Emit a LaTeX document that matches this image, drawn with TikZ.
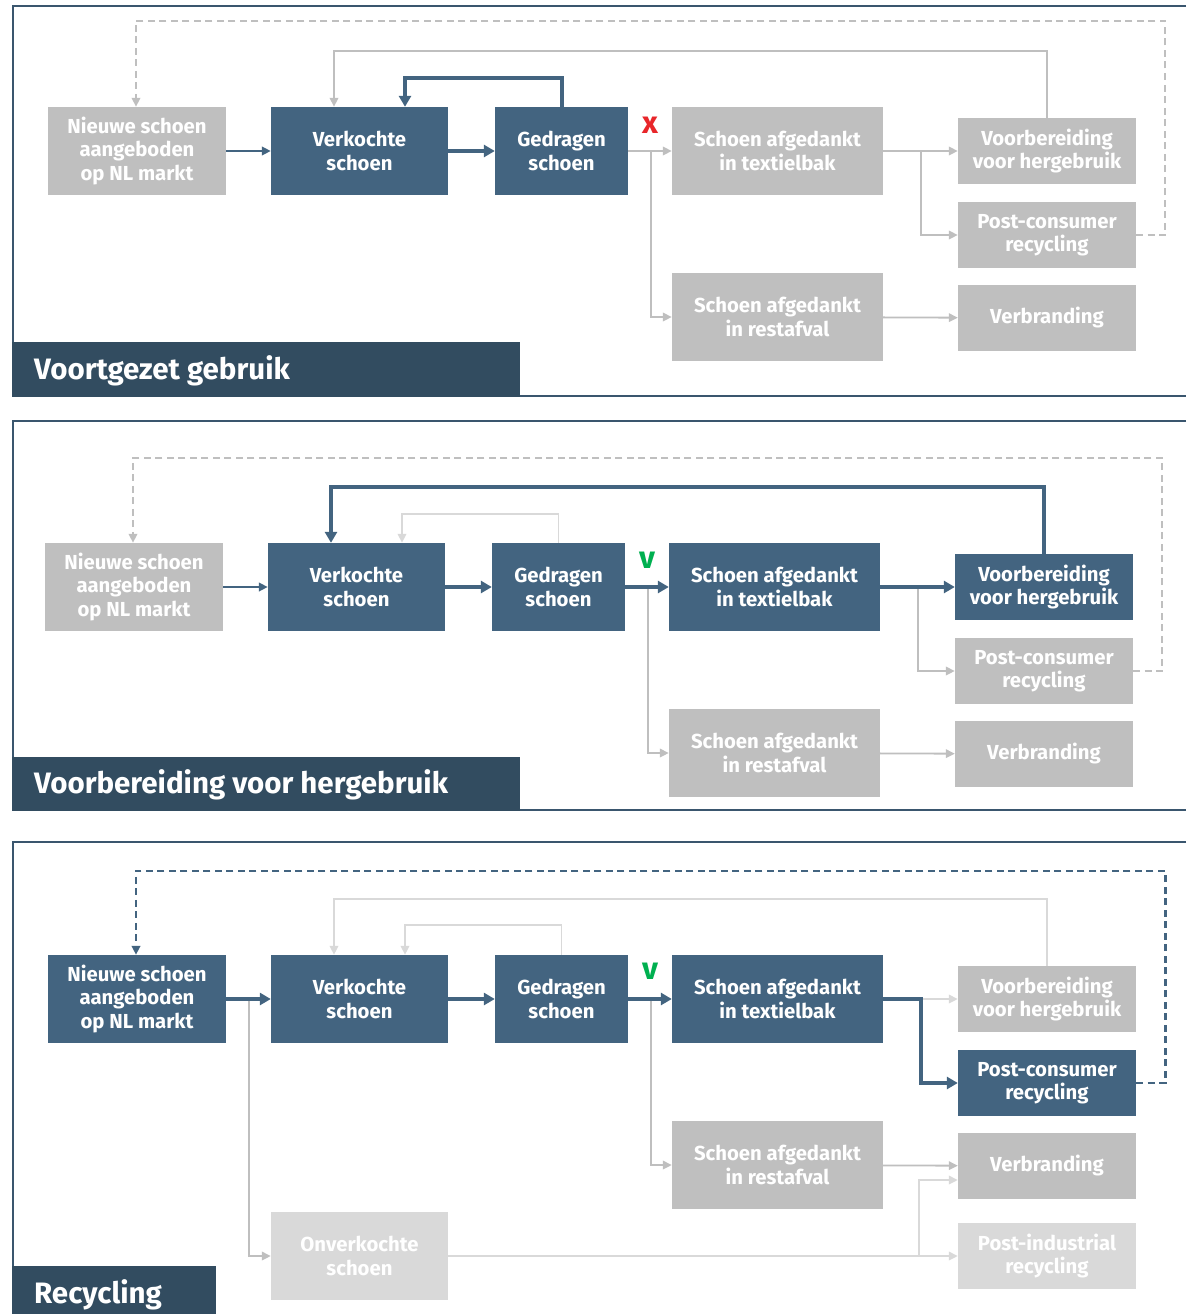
\documentclass[tikz,border=0pt]{standalone}
\usepackage{fontspec}
\setmainfont{Fira Sans}
\usetikzlibrary{arrows.meta}
\definecolor{nblue}{HTML}{436480}
\definecolor{ngray}{HTML}{BFBFBF}
\definecolor{nlight}{HTML}{D9D9D9}
\definecolor{tbar}{HTML}{324C60}
\definecolor{fline}{HTML}{3A566E}
\definecolor{redx}{HTML}{E8262A}
\definecolor{greenv}{HTML}{00B050}
\begin{document}
\begin{tikzpicture}[x=1pt,y=-1pt,
  box/.style={inner sep=0pt, align=center, text=white,
    font=\fontsize{20.3}{23.5}\selectfont\bfseries},
  bbox/.style={box, fill=nblue},
  gbox/.style={box, fill=ngray},
  lbox/.style={box, fill=nlight},
  wa/.style={minimum width=178pt, minimum height=88pt},
  wb/.style={minimum width=177pt, minimum height=88pt},
  wc/.style={minimum width=133pt, minimum height=88pt},
  wd/.style={minimum width=211pt, minimum height=88pt},
  we/.style={minimum width=178pt, minimum height=66pt},
  tipS/.style={-{Triangle[length=9pt,width=8.5pt]}},
  tipL/.style={-{Triangle[length=11pt,width=12pt]}},
  gthin/.style={draw=ngray, line width=1.8pt},
  lthin/.style={draw=nlight, line width=1.8pt},
  bmed/.style={draw=nblue, line width=2.6pt},
  bthick/.style={draw=nblue, line width=4pt},
  dsh/.style={dash pattern=on 7pt off 4.5pt},
  frame/.style={draw=fline, line width=2.8pt},
  titletext/.style={anchor=west, text=white, inner sep=0pt,
    font=\fontsize{29.5}{30}\selectfont\bfseries},
  signmark/.style={inner sep=0pt, font=\fontsize{31}{31}\selectfont\bfseries}
]
\useasboundingbox (0,0) rectangle (1186,1314);

% ---------- frames and title bars ----------
\draw[frame] (1186,6) -- (13,6) -- (13,396) -- (1186,396);
\draw[frame] (1186,421) -- (13,421) -- (13,810) -- (1186,810);
\draw[frame] (1186,842) -- (13,842) -- (13,1314);
\fill[tbar] (12,342) rectangle (520,397);
\fill[tbar] (12,757) rectangle (520,811);
\fill[tbar] (12,1266) rectangle (216,1314);
\node[titletext] (t1) at (34,371) {Voortgezet gebruik};
\node[titletext] (t2) at (34,785) {Voorbereiding voor hergebruik};
\node[titletext] (t3) at (34,1295) {Recycling};

% ---------- panel 1 ----------
\node[gbox,wa] (an) at (137,151) {Nieuwe schoen\\aangeboden\\op NL markt};
\node[bbox,wb] (av) at (359.5,151) {Verkochte\\schoen};
\node[bbox,wc] (ag) at (561.5,151) {Gedragen\\schoen};
\node[gbox,wd] (at) at (777.5,151) {Schoen afgedankt\\in textielbak};
\node[gbox,we] (ah) at (1047,151) {Voorbereiding\\voor hergebruik};
\node[gbox,we] (ap) at (1047,235) {Post-consumer\\recycling};
\node[gbox,wd] (ar) at (777.5,317) {Schoen afgedankt\\in restafval};
\node[gbox,we] (ab) at (1047,318) {Verbranding};
\node[signmark,text=redx] (ax) at (650,125) {x};
\coordinate (aj1) at (651,151);
\coordinate (aj2) at (921,151);
\draw[gthin,dsh,tipS] (ap.east) -- ++(29,0) |- ([xshift=-1pt,yshift=86pt]an.north) -- ([xshift=-1pt]an.north);
\draw[gthin,tipS] (ah.north) -- ++(0,-67) -| ([xshift=-25.5pt]av.north);
\draw[bthick,tipL] (ag.north) -- ++(0,-29) -| ([xshift=45.5pt]av.north);
\draw[bmed,tipS] (an) -- (av);
\draw[bthick,tipL] (av) -- (ag);
\draw[gthin,tipS] (ag) -- (at);
\draw[gthin,tipS] (aj1) |- (ar);
\draw[gthin,tipS] (at) -- (ah);
\draw[gthin,tipS] (aj2) |- (ap);
\draw[gthin,tipS] (ar) -- (ab);

% ---------- panel 2 ----------
\begin{scope}[shift={(-3,436)}]
\node[gbox,wa] (bn) at (137,151) {Nieuwe schoen\\aangeboden\\op NL markt};
\node[bbox,wb] (bv) at (359.5,151) {Verkochte\\schoen};
\node[bbox,wc] (bg) at (561.5,151) {Gedragen\\schoen};
\node[bbox,wd] (bt) at (777.5,151) {Schoen afgedankt\\in textielbak};
\node[bbox,we] (bh) at (1047,151) {Voorbereiding\\voor hergebruik};
\node[gbox,we] (bp) at (1047,235) {Post-consumer\\recycling};
\node[gbox,wd] (br) at (777.5,317) {Schoen afgedankt\\in restafval};
\node[gbox,we] (bb) at (1047,318) {Verbranding};
\node[signmark,text=greenv] (bx) at (650,124) {v};
\coordinate (bj1) at (651,151);
\coordinate (bj2) at (921,151);
\draw[gthin,dsh,tipS] (bp.east) -- ++(29,0) |- ([xshift=-1pt,yshift=85pt]bn.north) -- ([xshift=-1pt]bn.north);
\draw[lthin,tipS] (bg.north) -- ++(0,-29) -| ([xshift=45.5pt]bv.north);
\draw[bthick,tipL] (bh.north) -- ++(0,-67) -| ([xshift=-25.5pt]bv.north);
\draw[gthin,tipS] (bj1) |- (br);
\draw[gthin,tipS] (bj2) |- (bp);
\draw[bmed,tipS] (bn) -- (bv);
\draw[bthick,tipL] (bv) -- (bg);
\draw[bthick,tipL] (bg) -- (bt);
\draw[bthick,tipL] (bt) -- (bh);
\draw[gthin,tipS] (br) -- (bb);
\end{scope}

% ---------- panel 3 ----------
\begin{scope}[shift={(0,848)}]
\node[bbox,wa] (cn) at (137,151) {Nieuwe schoen\\aangeboden\\op NL markt};
\node[bbox,wb] (cv) at (359.5,151) {Verkochte\\schoen};
\node[bbox,wc] (cg) at (561.5,151) {Gedragen\\schoen};
\node[bbox,wd] (ct) at (777.5,151) {Schoen afgedankt\\in textielbak};
\node[gbox,we] (ch) at (1047,151) {Voorbereiding\\voor hergebruik};
\node[bbox,we] (cp) at (1047,235) {Post-consumer\\recycling};
\node[gbox,wd] (cr) at (777.5,317) {Schoen afgedankt\\in restafval};
\node[gbox,we] (cb) at (1047,318) {Verbranding};
\node[lbox,wb] (co) at (359.5,408) {Onverkochte\\schoen};
\node[lbox,we] (ci) at (1047,408) {Post-industrial\\recycling};
\node[signmark,text=greenv] (cx) at (650,123) {v};
\coordinate (cj0) at (249,151);
\coordinate (cj1) at (651,151);
\coordinate (cj2) at (921,151);
\coordinate (cj3) at (919,408);
\draw[lthin,tipS] (ch.north) -- ++(0,-67) -| ([xshift=-25.5pt]cv.north);
\draw[lthin,tipS] (cg.north) -- ++(0,-30) -| ([xshift=45.5pt]cv.north);
\draw[gthin,tipS] (cj0) |- (co);
\draw[gthin,tipS] (cj1) |- (cr);
\draw[lthin,tipS] (cj2) -- (ch);
\draw[lthin,tipS] (co) -- (ci);
\draw[lthin,tipS] (cj3) |- ([yshift=-14pt]cb.west);
\draw[gthin,tipS] (cr) -- (cb);
\draw[bthick,tipL] (cn) -- (cv);
\draw[bthick,tipL] (cv) -- (cg);
\draw[bthick,tipL] (cg) -- (ct);
\draw[bthick,tipL] (ct) -- (cj2) |- (cp);
\draw[bmed,dsh,tipS] (cp.east) -- ++(29,0) |- ([xshift=-1pt,yshift=84pt]cn.north) -- ([xshift=-1pt]cn.north);
\end{scope}
\end{tikzpicture}
\end{document}
